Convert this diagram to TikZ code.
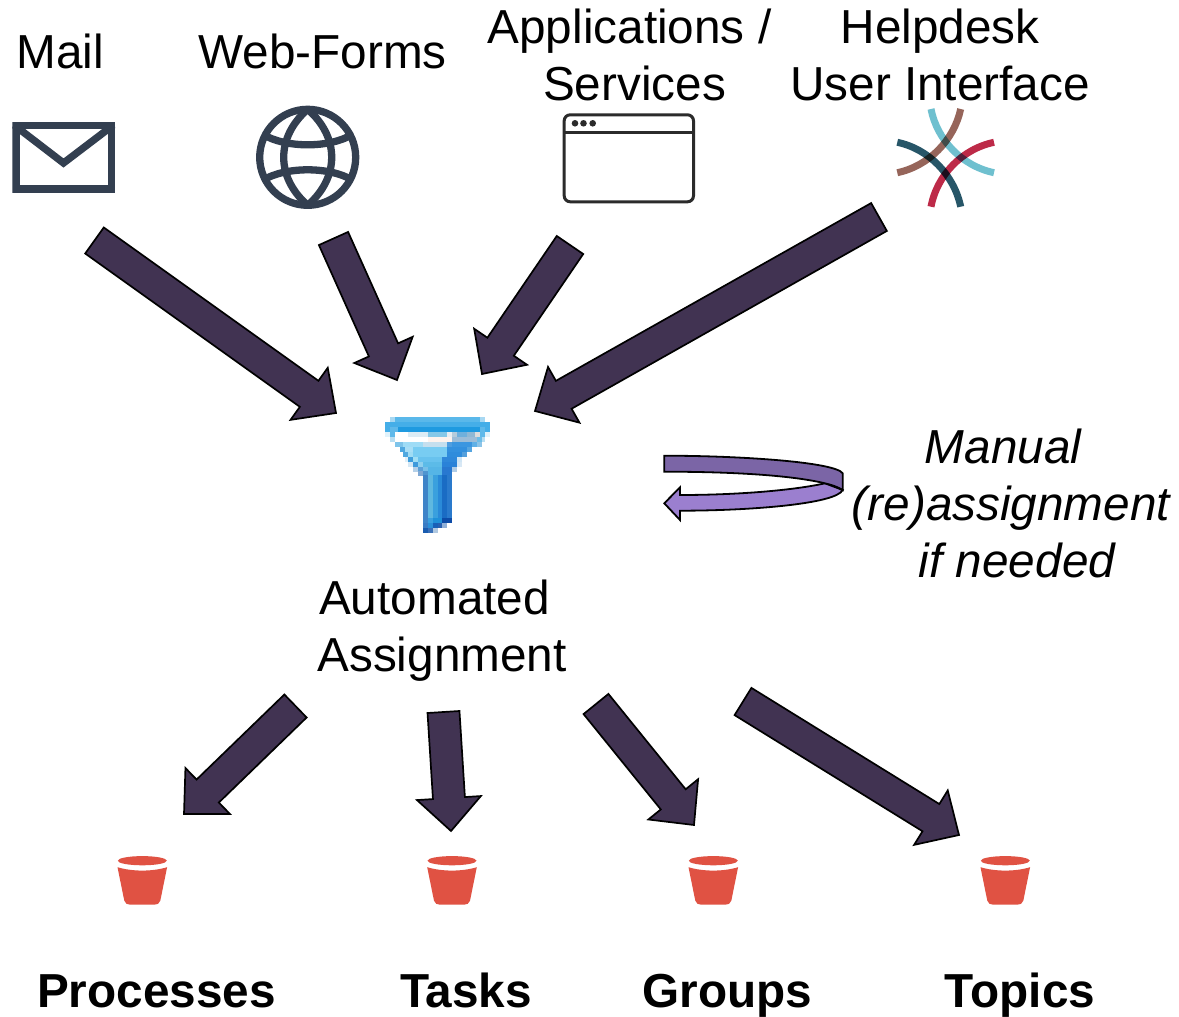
\documentclass[tikz,border=0pt]{standalone}
\usepackage{fontspec}
\setmainfont{Liberation Sans}
\usetikzlibrary{calc}
\definecolor{arrowfill}{HTML}{413352}
\definecolor{slateicon}{HTML}{333F50}
\definecolor{bucketred}{HTML}{E05243}
\definecolor{winline}{HTML}{2B2B2B}
\definecolor{swirlcyan}{HTML}{6FC0CF}
\definecolor{swirlbrown}{HTML}{96655A}
\definecolor{swirlred}{HTML}{BD2A48}
\definecolor{swirlteal}{HTML}{275668}
\definecolor{curlupper}{HTML}{7B65A6}
\definecolor{curllower}{HTML}{9B7FCF}
\tikzset{
  label text/.style={font=\fontsize{47.7}{57}\selectfont,align=center,inner sep=0pt,text=black},
  bold text/.style={font=\fontsize{47.7}{57}\selectfont\bfseries,inner sep=0pt,text=black,anchor=base},
  italic text/.style={font=\fontsize{47.7}{57}\selectfont\itshape,align=center,inner sep=0pt,text=black},
  block arrow/.style={fill=arrowfill,draw=black,line width=1.7pt,line join=miter},
  slate line/.style={draw=slateicon,line width=7.3pt},
  swirl/.style={blend mode=multiply,line width=7pt},
}
\newcommand{\trailgap}[1]{\hspace{#1}\mbox{}}
\newcommand{\blockarrow}[2]{%
  \coordinate (H) at ($(#2)!33pt!(#1)$);
  \draw[block arrow] ($(#1)!16pt!90:(#2)$) -- ($(H)!16pt!90:(#2)$) -- ($(H)!32pt!90:(#2)$) -- (#2)
    -- ($(H)!32pt!-90:(#2)$) -- ($(H)!16pt!-90:(#2)$) -- ($(#1)!16pt!-90:(#2)$) -- cycle;}
\newcommand{\bucketicon}[1]{%
  \begin{scope}[shift={(#1)}]
    \fill[bucketred] (0,0) ellipse (24.5 and 4.6);
    \fill[bucketred] (-24.8,6.5) .. controls (-10,11) and (10,11) .. (24.8,6.5)
      -- (18,40) .. controls (17,43) and (15,44) .. (12,44)
      -- (-12,44) .. controls (-15,44) and (-17,43) .. (-18,40) -- cycle;
  \end{scope}}
\newcommand{\fp}[4]{\definecolor{pixelcol}{HTML}{#4}\fill[pixelcol] (#2,#1) rectangle (#3,#1+15.3);}
\begin{document}
\begin{tikzpicture}[x=1pt,y=-1pt]
\useasboundingbox (0,0) rectangle (1179,1017);
\fill[white] (0,0) rectangle (1179,1017);

% labels
\node[label text] (mail) at (60,51) {Mail};
\node[label text] (web) at (322.5,51) {Web-Forms};
\node[label text] (apps) at (634.5,54.5) {Applications /\trailgap{10pt}\\Services};
\node[label text] (help) at (940,54.5) {Helpdesk\\User Interface};
\node[label text] (auto) at (442,630.5) {Automated\trailgap{15pt}\\Assignment};
\node[italic text] (manual) at (1011,503) {Manual\trailgap{16pt}\\(re)assignment\\\hspace*{12pt}if needed};
\node[bold text] (proc) at (156.5,1007) {Processes};
\node[bold text] (tasks) at (466,1007) {Tasks};
\node[bold text] (groups) at (727.5,1007) {Groups};
\node[bold text] (topics) at (1020,1007) {Topics};

% mail icon
\begin{scope}
  \clip (12.3,121.7) rectangle (115,192.7);
  \draw[slate line,line join=miter] (16,125.5) rectangle (111.3,189);
  \draw[slate line,line join=miter] (14,125) -- (63.5,163) -- (113.5,125);
\end{scope}

% globe icon
\begin{scope}[shift={(307.7,157.3)}]
  \draw[slate line] (0,0) circle (48);
  \begin{scope}
    \clip (0,0) circle (48);
    \draw[slate line] (0,-48) .. controls (-32,-20) and (-32,20) .. (0,48);
    \draw[slate line] (0,-48) .. controls (32,-20) and (32,20) .. (0,48);
    \draw[slate line] (-45,-23) .. controls (-22,-9) and (22,-9) .. (45,-23);
    \draw[slate line] (-45,23) .. controls (-22,9) and (22,9) .. (45,23);
  \end{scope}
\end{scope}

% window icon
\draw[draw=winline,line width=3pt,rounded corners=6pt] (564.2,114.8) rectangle (693.5,201.8);
\draw[draw=winline,line width=3pt] (564.2,132.3) -- (693.5,132.3);
\foreach \dx in {575,583.5,592.7} \fill[winline] (\dx,123.3) circle (3.3);

% helpdesk icon
\draw[swirl,draw=swirlcyan] (931,109) .. controls (937,140) and (962,166) .. (994,172.7);
\draw[swirl,draw=swirlbrown] (960.7,109) .. controls (954,140) and (929,166) .. (897.3,172.7);
\draw[swirl,draw=swirlred] (994,142.3) .. controls (962,149) and (937,175) .. (931,206.7);
\draw[swirl,draw=swirlteal] (897.3,142.3) .. controls (929,149) and (954,175) .. (960.7,206.7);

% funnel icon (pixel art)
\begin{scope}[shift={(370,400)},x=0.33333pt,y=-0.33333pt]
\fp{50}{60}{75}{A8D8F2}\fp{50}{75}{330}{5AB8EA}\fp{50}{330}{345}{A8D8F2}
\fp{65}{45}{360}{45AEE8}
\fp{80}{45}{60}{45AEE8}\fp{80}{60}{85}{5FB9EA}\fp{80}{85}{330}{1F9AE0}\fp{80}{330}{345}{5FB9EA}\fp{80}{345}{360}{45AEE8}
\fp{95}{45}{60}{E0F2FB}\fp{95}{60}{75}{5FB9EA}\fp{95}{75}{115}{FFFFFF}\fp{95}{115}{175}{DCECF5}\fp{95}{175}{230}{85C8E8}\fp{95}{230}{245}{E8EEF2}\fp{95}{245}{260}{B5CCDC}\fp{95}{260}{290}{70B0DC}\fp{95}{290}{315}{90B8D4}\fp{95}{315}{330}{DDDDDD}\fp{95}{330}{345}{5FB9EA}\fp{95}{345}{360}{E0F2FB}
\fp{110}{60}{75}{B8DEF2}\fp{110}{75}{175}{FFFFFF}\fp{110}{175}{245}{FDF3EE}\fp{110}{245}{320}{9DBDD8}\fp{110}{320}{335}{6CBDE8}\fp{110}{335}{345}{B8DEF2}
\fp{125}{75}{100}{7EC4EA}\fp{125}{100}{160}{9FDCF6}\fp{125}{160}{230}{C5DFEE}\fp{125}{230}{245}{4F9EE0}\fp{125}{245}{305}{3B96E0}\fp{125}{305}{320}{5FB0E6}\fp{125}{320}{335}{8CC4E8}
\fp{140}{90}{105}{4FA8E0}\fp{140}{105}{130}{A8DEF6}\fp{140}{130}{230}{78CCF2}\fp{140}{230}{290}{3390DE}\fp{140}{290}{305}{55A5E0}
\fp{155}{100}{115}{4FA8E0}\fp{155}{115}{130}{9FDCF4}\fp{155}{130}{230}{78CCF2}\fp{155}{230}{275}{2F8CDC}\fp{155}{275}{290}{55A0DC}
\fp{170}{105}{115}{E0EFF8}\fp{170}{115}{130}{3F9EDC}\fp{170}{130}{145}{A0DEF4}\fp{170}{145}{215}{68C2EE}\fp{170}{215}{260}{2F88DA}\fp{170}{260}{275}{CFE5F5}
\fp{185}{115}{130}{D5E8F5}\fp{185}{130}{145}{3E9ADC}\fp{185}{145}{160}{8FD0EE}\fp{185}{160}{215}{5CBBE8}\fp{185}{215}{260}{2A82D8}\fp{185}{260}{275}{D8E8F5}
\fp{200}{130}{145}{B5D0E8}\fp{200}{145}{160}{5AA0D8}\fp{200}{160}{175}{78C0E8}\fp{200}{175}{215}{55B5E6}\fp{200}{215}{245}{2878D0}\fp{200}{245}{260}{B0CCE6}
\fp{212}{145}{160}{7FA8D4}\fp{212}{160}{175}{4F95D0}\fp{212}{175}{215}{55B5E6}\fp{212}{215}{245}{2878D0}
\foreach \ry in {225,240,...,345} {\fp{\ry}{160}{175}{3F84C8}\fp{\ry}{175}{190}{5FB8E0}\fp{\ry}{190}{205}{3AA0DE}\fp{\ry}{205}{215}{2A8AD8}\fp{\ry}{215}{230}{1A6CC4}\fp{\ry}{230}{245}{2A7ACC}}
\fp{355}{160}{175}{3F84C8}\fp{355}{175}{190}{3AA0DE}\fp{355}{190}{215}{1F90D8}\fp{355}{215}{245}{0D4CA8}
\fp{370}{160}{175}{3A7CC4}\fp{370}{175}{190}{2A90D8}\fp{370}{190}{205}{1860B8}\fp{370}{205}{215}{2860B0}\fp{370}{215}{230}{90B0D8}
\fp{385}{160}{175}{1A5CB0}\fp{385}{175}{190}{3A70B8}\fp{385}{190}{205}{B0C8E0}
\end{scope}

% manual reassignment arrow
\draw[fill=curllower,draw=black,line width=1.8pt,line join=miter]
  (842.7,490) .. controls (836,504) and (750,510.7) .. (680,510.7)
  -- (680,520) -- (664.3,503.3) -- (680,487.3) -- (680,495)
  .. controls (740,495) and (795,490) .. (825,483.3) -- cycle;
\draw[fill=curlupper,draw=black,line width=1.8pt,line join=miter]
  (664.3,455.7) .. controls (740,455.7) and (835,462) .. (842.7,473.3)
  -- (842.7,490) .. controls (838,487) and (832,485) .. (825,483.3)
  .. controls (790,475) and (730,471.7) .. (664.3,471.7) -- cycle;

% buckets
\bucketicon{142.3,860.7}
\bucketicon{452,860.7}
\bucketicon{713.3,860.7}
\bucketicon{1005.3,860.7}

% connector anchors
\coordinate (a1) at (94.5,240.5); \coordinate (b1) at (336,413);
\coordinate (a2) at (333.5,238.5); \coordinate (b2) at (397,380);
\coordinate (a3) at (570,245); \coordinate (b3) at (482,374);
\coordinate (a4) at (879,217); \coordinate (b4) at (535,411);
\coordinate (a5) at (295.5,706); \coordinate (b5) at (184,814);
\coordinate (a6) at (443.5,712); \coordinate (b6) at (451,831);
\coordinate (a7) at (596,704); \coordinate (b7) at (694,825);
\coordinate (a8) at (743,701.5); \coordinate (b8) at (959,835);
\foreach \i in {1,...,8} {\blockarrow{a\i}{b\i}}
\end{tikzpicture}
\end{document}
